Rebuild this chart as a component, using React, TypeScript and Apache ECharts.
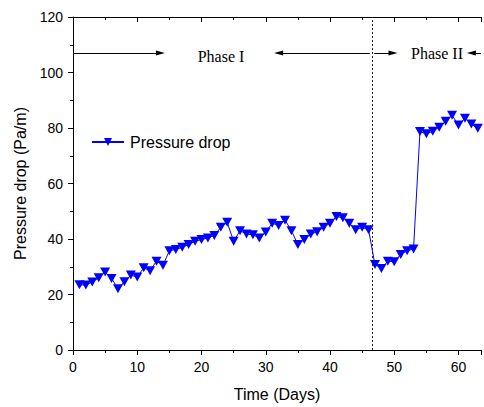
import React, { useEffect, useRef } from "react";
import * as echarts from "echarts";

const days: number[] = [
  1, 2, 3, 4, 5, 6, 7, 8, 9, 10, 11, 12, 13, 14, 15, 16, 17, 18, 19, 20, 21,
  22, 23, 24, 25, 26, 27, 28, 29, 30, 31, 32, 33, 34, 35, 36, 37, 38, 39, 40,
  41, 42, 43, 44, 45, 46, 47, 48, 49, 50, 51, 52, 53, 54, 55, 56, 57, 58, 59,
  60, 61, 62, 63,
];
const pressureDrop: number[] = [
  23.5, 23.4, 24.5, 26.0, 28.1, 25.8, 22.1, 24.6, 27.0, 26.3, 29.6, 28.6,
  32.0, 30.5, 35.8, 36.2, 37.0, 38.0, 39.2, 39.8, 40.4, 41.3, 44.2, 46.0,
  39.2, 43.0, 41.8, 41.5, 40.4, 42.5, 45.7, 44.9, 46.8, 43.0, 38.0, 39.8,
  41.8, 42.6, 44.2, 45.7, 48.1, 47.7, 45.7, 43.3, 44.2, 43.3, 30.8, 29.4,
  32.0, 31.8, 34.4, 35.8, 36.4, 78.7, 77.9, 78.8, 80.3, 82.4, 84.6, 81.1,
  83.5, 81.4, 79.9,
];
const seriesName = "Pressure drop";
const xTitle = "Time (Days)";
const yTitle = "Pressure drop (Pa/m)";
const phaseBoundary = 46.5;
const arrowLevel = 107;
const xMax = 63.5;

export default function App() {
  const ref = useRef<HTMLDivElement>(null);
  useEffect(() => {
    if (!ref.current) return;
    const chart = echarts.init(ref.current, undefined, { renderer: "svg" });
    const font = "Liberation Sans, Arial, sans-serif";
    const serif = "Liberation Serif, Times New Roman, serif";
    const black = { color: "#000", width: 1 };
    const xBase = { type: "value", min: 0, max: xMax, splitLine: { show: false } };
    chart.setOption({
      animation: false,
      backgroundColor: "#fff",
      grid: { left: 73, top: 17, right: 0, bottom: 54, containLabel: false },
      legend: {
        show: true,
        data: [seriesName],
        left: 86,
        top: 129,
        itemWidth: 32,
        itemHeight: 10,
        itemGap: 0,
        textStyle: { fontSize: 16, fontFamily: font, color: "#000", padding: [0, 0, 0, 1] },
      },
      xAxis: [
        {
          ...xBase,
          position: "bottom",
          interval: 10,
          axisLine: { show: true, lineStyle: black },
          axisTick: { show: true, inside: false, length: 5, lineStyle: black },
          axisLabel: {
            fontSize: 14,
            fontFamily: font,
            color: "#000",
            margin: 10,
            formatter: (v: number) => (v % 10 === 0 ? String(v) : ""),
          },
          name: xTitle,
          nameLocation: "middle",
          nameGap: 36,
          nameTextStyle: { fontSize: 16, fontFamily: font, color: "#000" },
        },
        {
          ...xBase,
          position: "bottom",
          interval: 5,
          axisLine: { show: false },
          axisTick: { show: true, inside: false, length: 3, lineStyle: black },
          axisLabel: { show: false },
        },
        {
          ...xBase,
          position: "top",
          interval: 10,
          axisLine: { show: true, lineStyle: black },
          axisTick: { show: true, inside: true, length: 5, lineStyle: black },
          axisLabel: { show: false },
        },
        {
          ...xBase,
          position: "top",
          interval: 5,
          axisLine: { show: false },
          axisTick: { show: true, inside: true, length: 3, lineStyle: black },
          axisLabel: { show: false },
        },
      ],
      yAxis: [
        {
          type: "value",
          min: 0,
          max: 120,
          interval: 20,
          splitLine: { show: false },
          axisLine: { show: true, lineStyle: black },
          axisTick: { show: true, inside: false, length: 5, lineStyle: black },
          minorTick: { show: true, splitNumber: 2, length: 3, lineStyle: black },
          axisLabel: { fontSize: 14, fontFamily: font, color: "#000", margin: 10 },
          name: yTitle,
          nameLocation: "middle",
          nameGap: 44,
          nameTextStyle: { fontSize: 16, fontFamily: font, color: "#000" },
        },
      ],
      series: [
        {
          name: seriesName,
          type: "line",
          xAxisIndex: 0,
          yAxisIndex: 0,
          data: days.map((d, i) => [d, pressureDrop[i]]),
          symbol: "triangle",
          symbolRotate: 180,
          symbolSize: [10, 9],
          itemStyle: { color: "#0000ff" },
          lineStyle: { color: "#0000ff", width: 1 },
          markLine: {
            silent: true,
            animation: false,
            symbol: ["none", "none"],
            label: { show: false },
            emphasis: { disabled: true },
            data: [
              {
                xAxis: phaseBoundary,
                lineStyle: { color: "#222", width: 1, type: [2, 2] },
              },
              [
                { coord: [0.1, arrowLevel], symbol: "none", lineStyle: { color: "#000", width: 1, type: "solid" } },
                { coord: [13.6, arrowLevel], symbol: "triangle", symbolSize: [5, 9] },
              ],
              [
                { coord: [46.2, arrowLevel], symbol: "none", lineStyle: { color: "#000", width: 1, type: "solid" } },
                { coord: [32.0, arrowLevel], symbol: "triangle", symbolSize: [5, 9] },
              ],
              [
                { coord: [46.9, arrowLevel], symbol: "none", lineStyle: { color: "#000", width: 1, type: "solid" } },
                { coord: [49.8, arrowLevel], symbol: "triangle", symbolSize: [5, 9] },
              ],
              [
                { coord: [xMax, arrowLevel], symbol: "none", lineStyle: { color: "#000", width: 1, type: "solid" } },
                { coord: [62.0, arrowLevel], symbol: "triangle", symbolSize: [5, 9] },
              ],
            ],
          },
        },
      ],
      graphic: [
        {
          type: "text",
          x: 221,
          y: 56,
          style: {
            text: "Phase I",
            font: `16px ${serif}`,
            fill: "#000",
            textAlign: "center",
            textVerticalAlign: "middle",
          },
        },
        {
          type: "text",
          x: 437,
          y: 53,
          style: {
            text: "Phase II",
            font: `16px ${serif}`,
            fill: "#000",
            textAlign: "center",
            textVerticalAlign: "middle",
          },
        },
      ],
    });
    return () => chart.dispose();
  }, []);
  return (
    <div
      ref={ref}
      style={{ position: "fixed", left: 0, top: 0, width: 484, height: 407, overflow: "hidden" }}
    />
  );
}
